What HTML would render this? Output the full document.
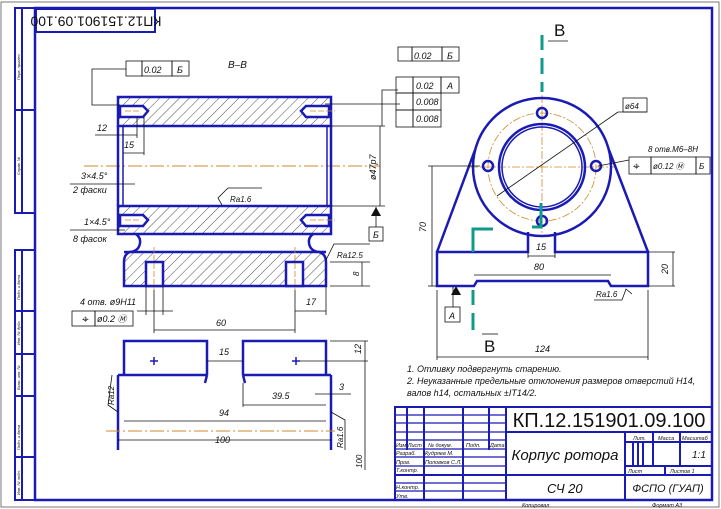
<!DOCTYPE html>
<html><head><meta charset="utf-8"><style>
html,body{margin:0;padding:0;background:#fff;width:721px;height:509px;overflow:hidden}
svg{display:block}
text{font-family:"Liberation Sans","DejaVu Sans",sans-serif;font-style:italic;fill:#111}
</style></head><body>
<svg width="721" height="509" viewBox="0 0 721 509" xmlns="http://www.w3.org/2000/svg">
<defs>
<pattern id="h" patternUnits="userSpaceOnUse" width="7" height="7" patternTransform="rotate(45)">
<rect width="7" height="7" fill="#fff"/><line x1="0" y1="0" x2="0" y2="7" stroke="#222" stroke-width="0.8"/>
</pattern>
</defs>
<rect x="0" y="0" width="721" height="509" fill="#fff"/>
<rect x="1" y="2" width="718" height="505" fill="none" stroke="#777" stroke-width="1"/>
<rect x="35" y="8" width="677" height="492" fill="none" stroke="#1a1ab4" stroke-width="2.5"/>
<g stroke="#1a1ab4" stroke-width="2" fill="none">
<rect x="15" y="8" width="20" height="205"/>
<line x1="22" y1="8" x2="22" y2="213"/>
<line x1="15" y1="110" x2="35" y2="110"/>
<rect x="15" y="250" width="20" height="250"/>
<line x1="22" y1="250" x2="22" y2="500"/>
<line x1="15" y1="311" x2="35" y2="311"/>
<line x1="15" y1="354" x2="35" y2="354"/>
<line x1="15" y1="396" x2="35" y2="396"/>
<line x1="15" y1="457" x2="35" y2="457"/>
</g>
<g font-size="4" fill="#444">
<text transform="translate(20,80) rotate(-90)">Перв. примен.</text>
<text transform="translate(20,175) rotate(-90)">Справ. №</text>
<text transform="translate(20,300) rotate(-90)">Подп. и дата</text>
<text transform="translate(20,345) rotate(-90)">Инв. № дубл.</text>
<text transform="translate(20,390) rotate(-90)">Взам. инв. №</text>
<text transform="translate(20,450) rotate(-90)">Подп. и дата</text>
<text transform="translate(20,495) rotate(-90)">Инв. № подл.</text>
</g>
<rect x="36" y="9" width="119" height="23" fill="none" stroke="#1a1ab4" stroke-width="2"/>
<text transform="translate(96,20) rotate(180)" font-size="14" text-anchor="middle" dominant-baseline="middle" style="font-style:normal">КП12.151901.09.100</text>
<text x="228" y="68" font-size="10">В–В</text>

<line x1="84" y1="166" x2="380" y2="166" stroke="#d08a2a" stroke-width="1" stroke-dasharray="14 3 2 3"/>
<g stroke="#1a1ab4" stroke-width="2.5">
<rect x="118" y="97" width="213" height="29" fill="url(#h)"/>
<rect x="118" y="206" width="213" height="28" fill="url(#h)"/>
<line x1="118" y1="126" x2="118" y2="206"/>
<line x1="331" y1="126" x2="331" y2="206"/>
<line x1="123" y1="126" x2="123" y2="206" stroke-width="1.5"/>
<line x1="327" y1="126" x2="327" y2="206" stroke-width="1.5"/>
<path d="M120 106 H143 L148 111 L143 117 H120Z" fill="#fff"/>
<path d="M329 106 H306 L301 111 L306 117 H329Z" fill="#fff"/>
<path d="M120 215 H143 L148 220 L143 226 H120Z" fill="#fff"/>
<path d="M329 215 H306 L301 220 L306 226 H329Z" fill="#fff"/>
<path d="M136 234 Q141 238 140 243 Q139 251 130 252 L124 252" fill="none"/>
<path d="M313 234 Q308 238 309 243 Q310 251 319 252 L326 252" fill="none"/>
<path d="M130 252 Q124 254 124 262 V286 H326 V262 Q326 254 319 252 Z" fill="url(#h)"/>
<rect x="146" y="262" width="17" height="24" fill="#fff"/>
<rect x="286" y="262" width="17" height="24" fill="#fff"/>
</g>
<g stroke="#d08a2a" stroke-width="0.8" stroke-dasharray="6 2">
<line x1="125" y1="111" x2="140" y2="111"/><line x1="310" y1="111" x2="335" y2="111"/>
<line x1="125" y1="220" x2="140" y2="220"/><line x1="310" y1="220" x2="335" y2="220"/>
<line x1="154" y1="247" x2="154" y2="290"/><line x1="295" y1="247" x2="295" y2="290"/>
</g>
<g stroke="#111" stroke-width="0.8" fill="none">
<polyline points="120,105 92,105 92,69 126,69"/>
<rect x="126" y="61" width="16" height="15"/><rect x="142" y="61" width="30" height="15"/><rect x="172" y="61" width="17" height="15"/>
<line x1="95" y1="135" x2="137" y2="135"/>
<line x1="123" y1="153" x2="144" y2="153"/>
<line x1="137" y1="117" x2="137" y2="138"/><line x1="144" y1="117" x2="144" y2="155"/>
<line x1="70" y1="184" x2="135" y2="184"/>
<line x1="70" y1="230" x2="125" y2="230"/>
<line x1="325" y1="104" x2="400" y2="104"/>
<line x1="331" y1="126" x2="385" y2="126"/>
<line x1="331" y1="206" x2="385" y2="206"/>
<line x1="380" y1="126" x2="380" y2="206"/>
<line x1="376" y1="207" x2="376" y2="227"/>
<rect x="369" y="227" width="14" height="14"/>
<polyline points="382,126 382,90 398,90"/>
<rect x="398" y="47" width="14" height="14"/><rect x="412" y="47" width="30" height="14"/><rect x="442" y="47" width="17" height="14"/>
<rect x="396" y="77" width="17" height="16"/><rect x="413" y="77" width="28" height="16"/><rect x="441" y="77" width="18" height="16"/>
<rect x="396" y="93" width="17" height="17"/><rect x="413" y="93" width="28" height="17"/>
<rect x="396" y="110" width="17" height="17"/><rect x="413" y="110" width="28" height="17"/>
<polyline points="222,205 218,198 228,188 262,188"/>
<polyline points="326,260 334,244 370,244"/>
<line x1="330" y1="262" x2="370" y2="262"/><line x1="330" y1="286" x2="370" y2="286"/>
<line x1="362" y1="262" x2="362" y2="286"/>
<line x1="146" y1="286" x2="146" y2="315"/><line x1="163" y1="286" x2="163" y2="315"/>
<line x1="137" y1="311" x2="173" y2="311"/>
<line x1="154" y1="290" x2="154" y2="333"/><line x1="295" y1="290" x2="295" y2="333"/>
<line x1="154" y1="330" x2="295" y2="330"/>
<line x1="295" y1="311" x2="326" y2="311"/><line x1="326" y1="286" x2="326" y2="315"/>
<rect x="72" y="311" width="23" height="15"/><rect x="95" y="311" width="38" height="15"/>
</g>
<g fill="#111"><polygon points="376,207 371,216 381,216"/><polygon points="456,286 451,295 461,295"/></g>
<g font-size="9">
<text x="144" y="73">0.02</text><text x="177" y="73">Б</text>
<text x="97" y="131">12</text><text x="124" y="148">15</text>
<text x="81" y="179">3×4.5°</text><text x="73" y="193">2 фаски</text>
<text x="84" y="225">1×4.5°</text><text x="73" y="242">8 фасок</text>
<text x="230" y="202" font-size="8">Ra1.6</text>
<text x="337" y="258" font-size="8">Ra12.5</text>
<text x="414" y="59">0.02</text><text x="447" y="59">Б</text>
<text x="416" y="89">0.02</text><text x="447" y="89">А</text>
<text x="416" y="105">0.008</text><text x="416" y="122">0.008</text>
<text x="373" y="238">Б</text>
<text transform="translate(376,180) rotate(-90)">ø47p7</text>
<text transform="translate(359,276) rotate(-90)" font-size="8">8</text>
<text x="80" y="305">4 отв. ø9H11</text>
<text x="306" y="305">17</text><text x="216" y="326">60</text>
<text x="97" y="322">ø0.2 Ⓜ</text>
<text x="82" y="323" font-size="12" style="font-style:normal">⌖</text>
</g>
<g stroke="#1a1ab4" stroke-width="2.5" fill="none">
<polyline points="124,375 124,341 207,341 207,375"/>
<polyline points="243,375 243,341 326,341 326,375"/>
<line x1="118" y1="375" x2="207" y2="375"/><line x1="243" y1="375" x2="331" y2="375"/>
<line x1="207" y1="375" x2="205" y2="383"/><line x1="243" y1="375" x2="245" y2="383"/>
<line x1="118" y1="375" x2="118" y2="450"/><line x1="331" y1="375" x2="331" y2="450"/>
</g>
<g stroke="#1a1ab4" stroke-width="1.5"><line x1="150" y1="361" x2="158" y2="361"/><line x1="154" y1="357" x2="154" y2="365"/><line x1="292" y1="361" x2="300" y2="361"/><line x1="296" y1="357" x2="296" y2="365"/></g>
<line x1="106" y1="431" x2="335" y2="431" stroke="#d08a2a" stroke-width="1" stroke-dasharray="14 3 2 3"/>
<g stroke="#111" stroke-width="0.8" fill="none">
<line x1="207" y1="361" x2="243" y2="361"/>
<line x1="300" y1="361" x2="368" y2="361"/>
<line x1="330" y1="341" x2="368" y2="341"/><line x1="365" y1="341" x2="365" y2="470"/>
<line x1="243" y1="383" x2="243" y2="407"/>
<line x1="243" y1="405" x2="326" y2="405"/>
<line x1="315" y1="394" x2="351" y2="394"/>
<line x1="124" y1="421" x2="326" y2="421"/>
<line x1="118" y1="440" x2="331" y2="440"/>
<polyline points="118,412 108,405 112,375"/>
<polyline points="331,412 345,420 345,450"/>
</g>
<g font-size="9">
<text x="219" y="355">15</text><text x="352" y="355" transform="rotate(-90 356 350)">12</text>
<text x="339" y="390">3</text><text x="272" y="399">39.5</text>
<text x="219" y="416">94</text><text x="215" y="443">100</text>
<text transform="translate(114,405) rotate(-90)" font-size="8">Ra12</text>
<text transform="translate(343,448) rotate(-90)" font-size="8">Ra1.6</text>
<text transform="translate(362,468) rotate(-90)" font-size="8">100</text>
</g>

<g stroke="#d08a2a" stroke-width="0.8" fill="none" stroke-dasharray="8 2 2 2">
<circle cx="542" cy="167" r="54"/>
<line x1="470" y1="167" x2="615" y2="167"/>
<line x1="542" y1="95" x2="542" y2="235"/>
</g>
<g stroke="#1a1ab4" stroke-width="2.5" fill="none">
<circle cx="542" cy="167" r="69"/>
<circle cx="542" cy="167" r="43"/>
<circle cx="542" cy="167" r="40" stroke-width="1.5"/>
<line x1="437" y1="252" x2="475" y2="150"/>
<line x1="648" y1="252" x2="609" y2="150"/>
<path d="M528 232 V252 H437 V286 H474 L477 281 H608 L611 286 H648 V252 H555 V232"/>
<ellipse cx="542" cy="113" rx="5" ry="5"/><ellipse cx="542" cy="221" rx="5" ry="5"/>
<ellipse cx="488" cy="166" rx="5" ry="5"/><ellipse cx="596" cy="166" rx="5" ry="5"/>
</g>
<g stroke="#11998a" stroke-width="3" fill="none">
<line x1="542" y1="35" x2="542" y2="50"/><line x1="542" y1="58" x2="542" y2="74"/><line x1="542" y1="82" x2="542" y2="92"/>
<polyline points="473,252 473,229 493,229"/>
<polyline points="541,203 541,227 532,227"/>
<line x1="473" y1="290" x2="473" y2="305"/><line x1="473" y1="313" x2="473" y2="330"/>
</g>
<g stroke="#111" stroke-width="0.8" fill="none">
<line x1="548" y1="41" x2="568" y2="41"/><line x1="482" y1="334" x2="498" y2="334"/>
<line x1="497" y1="196" x2="618" y2="112" /><line x1="618" y1="112" x2="647" y2="112"/>
<rect x="623" y="98" width="24" height="14"/>
<line x1="598" y1="166" x2="629" y2="160"/>
<rect x="629" y="157" width="22" height="17"/><rect x="651" y="157" width="45" height="17"/><rect x="696" y="157" width="14" height="17"/>
<line x1="428" y1="166" x2="480" y2="166"/><line x1="432" y1="166" x2="432" y2="286"/><line x1="428" y1="286" x2="437" y2="286"/>
<line x1="648" y1="252" x2="675" y2="252"/><line x1="648" y1="286" x2="675" y2="286"/><line x1="673" y1="252" x2="673" y2="286"/>
<line x1="528" y1="252" x2="528" y2="258"/><line x1="555" y1="252" x2="555" y2="258"/><line x1="528" y1="256" x2="555" y2="256"/>
<line x1="474" y1="275" x2="611" y2="275"/>
<polyline points="594,300 622,300 626,289 632,294"/>
<line x1="437" y1="290" x2="437" y2="360"/><line x1="648" y1="290" x2="648" y2="360"/>
<line x1="437" y1="357" x2="648" y2="357"/>
<line x1="453" y1="286" x2="453" y2="307"/>
<rect x="445" y="307" width="15" height="15"/>
</g>
<g font-size="9">
<text x="554" y="36" font-size="17" style="font-style:normal">В</text>
<text x="484" y="352" font-size="17" style="font-style:normal">В</text>
<text x="625" y="109" font-size="8">ø64</text>
<text x="648" y="152" font-size="8">8 отв.M6–8H</text>
<text x="653" y="169" font-size="8">ø0.12 Ⓜ</text><text x="699" y="169" font-size="8">Б</text>
<text x="633" y="170" font-size="12" style="font-style:normal">⌖</text>
<text transform="translate(426,232) rotate(-90)">70</text>
<text transform="translate(668,274) rotate(-90)">20</text>
<text x="536" y="250">15</text><text x="534" y="270">80</text>
<text x="596" y="297" font-size="8">Ra1.6</text>
<text x="449" y="319">А</text>
<text x="535" y="352">124</text>
</g>

<g font-size="9">
<text x="407" y="372">1. Отливку подвергнуть старению.</text>
<text x="407" y="384">2. Неуказанные предельные отклонения размеров отверстий H14,</text>
<text x="407" y="396">валов h14, остальных ±IT14/2.</text>
</g>

<g stroke="#1a1ab4" stroke-width="2" fill="none">
<rect x="395" y="407" width="317" height="93"/>
<line x1="506" y1="407" x2="506" y2="500"/>
<line x1="407" y1="407" x2="407" y2="450"/>
<line x1="424" y1="407" x2="424" y2="500"/>
<line x1="463" y1="407" x2="463" y2="500"/>
<line x1="489" y1="407" x2="489" y2="450"/>
<line x1="506" y1="432" x2="712" y2="432"/>
<line x1="395" y1="475" x2="712" y2="475"/>
<line x1="625" y1="432" x2="625" y2="500"/>
<line x1="625" y1="442" x2="712" y2="442"/>
<line x1="653" y1="432" x2="653" y2="466"/>
<line x1="680" y1="432" x2="680" y2="466"/>
<line x1="625" y1="466" x2="712" y2="466"/>
<line x1="633" y1="442" x2="633" y2="466"/><line x1="638" y1="442" x2="638" y2="466"/><line x1="643" y1="442" x2="643" y2="466"/>
<line x1="665" y1="466" x2="665" y2="475"/>
</g>
<g stroke="#1a1ab4" stroke-width="1.2">
<line x1="395" y1="415" x2="506" y2="415"/><line x1="395" y1="423" x2="506" y2="423"/>
<line x1="395" y1="432" x2="506" y2="432"/><line x1="395" y1="440" x2="506" y2="440"/>
<line x1="395" y1="449" x2="506" y2="449"/><line x1="395" y1="457" x2="506" y2="457"/>
<line x1="395" y1="466" x2="506" y2="466"/><line x1="395" y1="483" x2="506" y2="483"/>
<line x1="395" y1="491" x2="506" y2="491"/>
</g>
<g font-size="5.5">
<text x="396" y="447">Изм Лист</text><text x="428" y="447">№ докум.</text><text x="466" y="447">Подп.</text><text x="490" y="447">Дата</text>
<text x="396" y="455">Разраб.</text><text x="425" y="455">Кудряев М.</text>
<text x="396" y="464">Пров.</text><text x="425" y="464">Половков С.Л.</text>
<text x="396" y="472">Т.контр.</text>
<text x="396" y="489">Н.контр.</text><text x="396" y="498">Утв.</text>
<text x="633" y="440">Лит.</text><text x="658" y="440">Масса</text><text x="682" y="440">Масштаб</text>
<text x="628" y="473">Лист</text><text x="670" y="473">Листов 1</text>
<text x="522" y="507">Копировал</text><text x="652" y="507">Формат А3</text>
</g>
<text x="609" y="427" font-size="20" text-anchor="middle" style="font-style:normal">КП.12.151901.09.100</text>
<text x="565" y="460" font-size="15" text-anchor="middle">Корпус ротора</text>
<text x="692" y="458" font-size="10">1:1</text>
<text x="547" y="493" font-size="13">СЧ 20</text>
<text x="668" y="492" font-size="11" text-anchor="middle">ФСПО (ГУАП)</text>
</svg>
</body></html>
